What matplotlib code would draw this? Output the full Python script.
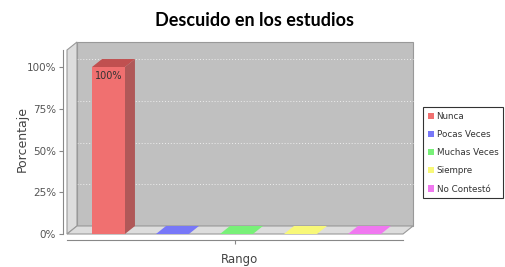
import matplotlib
matplotlib.use("Agg")
import matplotlib.pyplot as plt
from matplotlib.patches import Polygon, Patch

# ---- data ----
categories = ["Nunca", "Pocas Veces", "Muchas Veces", "Siempre", "No Contestó"]
values = [1.0, 0.0, 0.0, 0.0, 0.0]
colors = ["#f07070", "#7878f8", "#78f078", "#f8f878", "#f078f0"]
top_colors = ["#c05050", "#7878f8", "#78f078", "#f8f878", "#f078f0"]
side_colors = ["#b05858", "#6060c0", "#60c060", "#c0c060", "#c060c0"]
yticks = [0, 0.25, 0.5, 0.75, 1.0]
ytick_labels = ["0%", "25%", "50%", "75%", "100%"]
bar_labels = ["100%", "", "", "", ""]
title = "Descuido en los estudios"
xlabel = "Rango"
ylabel = "Porcentaje"

W, H = 506, 267
fig = plt.figure(figsize=(W / 100, H / 100), dpi=100)
fig.patch.set_facecolor("white")

ax = fig.add_axes([67 / W, 33 / H, (413 - 67) / W, (234 - 42) / H])
XL, XR = -0.648, 4.602
YT = 1.102
DX, DY = 0.15625, 0.048
ax.set_xlim(XL, XR + DX)
ax.set_ylim(0, YT + DY)
ax.set_facecolor("none")

edge = "#999999"
# back wall
ax.add_patch(Polygon([(XL + DX, DY), (XR + DX, DY), (XR + DX, YT + DY), (XL + DX, YT + DY)],
                     closed=True, facecolor="#c0c0c0", edgecolor=edge, lw=0.8, clip_on=False, zorder=1))
# grid lines on back wall
for yv in yticks[1:]:
    ax.plot([XL + DX, XR + DX], [yv + DY, yv + DY], color="#eeeeee", lw=0.7,
            ls=(0, (1, 2)), zorder=2, clip_on=False)
# left wall
ax.add_patch(Polygon([(XL, 0), (XL + DX, DY), (XL + DX, YT + DY), (XL, YT)],
                     closed=True, facecolor="#dddddd", edgecolor=edge, lw=0.8, clip_on=False, zorder=3))
# floor
ax.add_patch(Polygon([(XL, 0), (XR, 0), (XR + DX, DY), (XL + DX, DY)],
                     closed=True, facecolor="#dddddd", edgecolor=edge, lw=0.8, clip_on=False, zorder=3))

bw = 0.515
for i, v in enumerate(values):
    x0, x1 = i - bw / 2, i + bw / 2
    if v > 0:
        ax.add_patch(Polygon([(x1, 0), (x1 + DX, DY), (x1 + DX, v + DY), (x1, v)],
                             closed=True, facecolor=side_colors[i], edgecolor="none", zorder=4))
    ax.add_patch(Polygon([(x0, v), (x1, v), (x1 + DX, v + DY), (x0 + DX, v + DY)],
                         closed=True, facecolor=top_colors[i], edgecolor="none", zorder=4))
    if v > 0:
        ax.bar(i, v, width=bw, color=colors[i], edgecolor="none", zorder=5)
    if bar_labels[i]:
        ax.text(i, v - 0.025, bar_labels[i], ha="center", va="top", fontsize=7,
                color="#333333", zorder=6)

# axes styling
for s in ["top", "right"]:
    ax.spines[s].set_visible(False)
ax.spines["left"].set_position(("outward", 3))
ax.spines["left"].set_bounds(0, YT)
ax.spines["bottom"].set_position(("outward", 4))
ax.spines["bottom"].set_bounds(XL, XR)
for s in ["left", "bottom"]:
    ax.spines[s].set_color("#888888")
    ax.spines[s].set_linewidth(0.8)
ax.set_yticks(yticks)
ax.set_yticklabels(ytick_labels)
ax.set_xticks([(XL + XR) / 2])
ax.set_xticklabels([""])
ax.tick_params(axis="both", length=3, color="#888888", labelsize=7.5, labelcolor="#555555", pad=2)

fig.text(240 / W, 1 - 259 / H, xlabel, ha="center", va="center", fontsize=8.5, color="#444444")
fig.text(22 / W, 1 - 139 / H, ylabel, ha="center", va="center", rotation=90,
         fontsize=9, color="#444444")

fig.text(255 / W, 1 - 21 / H, title, ha="center", va="center", fontsize=13,
         fontweight="bold", color="black", family=["Lato", "DejaVu Sans"])

handles = [Patch(facecolor=c, edgecolor="none", label=l) for c, l in zip(colors, categories)]
leg = fig.legend(handles=handles, loc="upper left", bbox_to_anchor=(423 / W, 1 - 107 / H),
                 fontsize=6.3, frameon=True, fancybox=False, handlelength=0.7, handleheight=0.7,
                 handletextpad=0.3, borderpad=0.55, labelspacing=1.05, borderaxespad=0)
leg.get_frame().set_edgecolor("black")
leg.get_frame().set_linewidth(0.8)
for t in leg.get_texts():
    t.set_color("#333333")

fig.savefig("out.png", dpi=100)
